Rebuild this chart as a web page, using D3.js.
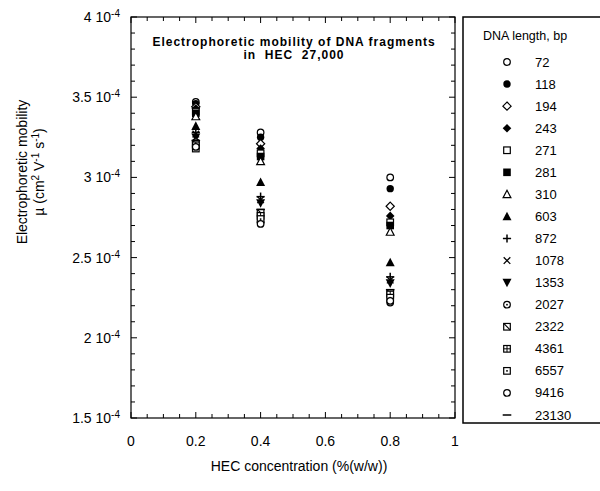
<!DOCTYPE html>
<html>
<head>
<meta charset="utf-8">
<script src="https://cdn.jsdelivr.net/npm/d3@7"></script>
<style>
  body { margin: 0; background: #fff; }
  text { font-family: "Liberation Sans", Arial, sans-serif; fill: #000; }
</style>
</head>
<body>
<div class="chart"></div>
<script>
var svgWidth = 600;
var svgHeight = 491;

// HEC concentration (%w/w)
var concentrations = [0.2, 0.4, 0.8];
// fragment sizes, bp (legend order)
var fragments = ["72", "118", "194", "243", "271", "281", "310", "603", "872",
  "1078", "1353", "2027", "2322", "4361", "6557", "9416", "23130"];
// mobility in units of 1e-4 cm2/(V s), one value per concentration
var mobility72 = [3.47, 3.28, 3.00];
var mobility118 = [3.46, 3.25, 2.93];
var mobility194 = [3.44, 3.21, 2.82];
var mobility243 = [3.43, 3.18, 2.76];
var mobility271 = [3.41, 3.15, 2.72];
var mobility281 = [3.40, 3.13, 2.70];
var mobility310 = [3.38, 3.10, 2.66];
var mobility603 = [3.32, 2.97, 2.47];
var mobility872 = [3.28, 2.88, 2.38];
var mobility1078 = [3.27, 2.86, 2.36];
var mobility1353 = [3.25, 2.84, 2.34];
var mobility2027 = [3.22, 2.72, 2.22];
var mobility2322 = [3.21, 2.78, 2.28];
var mobility4361 = [3.20, 2.76, 2.27];
var mobility6557 = [3.18, 2.74, 2.25];
var mobility9416 = [3.19, 2.71, 2.23];
var mobility23130 = [3.23, 2.80, 2.30];

var xTicks = [0, 0.2, 0.4, 0.6, 0.8, 1];
var yTicks = [1.5, 2, 2.5, 3, 3.5, 4];

var allMobility = [mobility72, mobility118, mobility194, mobility243, mobility271,
  mobility281, mobility310, mobility603, mobility872, mobility1078, mobility1353,
  mobility2027, mobility2322, mobility4361, mobility6557, mobility9416, mobility23130];

var symbols = ["circleOpen", "circleFilled", "diamondOpen", "diamondFilled", "squareOpen",
  "squareFilled", "triOpen", "triFilled", "plus", "cross", "triDown", "circleDot",
  "squareSlash", "squareGrid", "squareDot", "circleOpen", "dash"];

var margin = { top: 17, left: 131 };
var width = 324;
var height = 401;

var svg = d3.select(".chart")
  .append("svg")
  .attr("width", svgWidth)
  .attr("height", svgHeight);

var chartGroup = svg.append("g")
  .attr("transform", `translate(${margin.left}, ${margin.top})`);

var xScale = d3.scaleLinear().domain([0, 1]).range([0, width]);
var yScale = d3.scaleLinear().domain([1.5, 4]).range([height, 0]);

// frame
chartGroup.append("rect")
  .attr("width", width)
  .attr("height", height)
  .attr("fill", "none")
  .attr("stroke", "#000")
  .attr("stroke-width", 1.2);

// inward ticks on all four sides
var xMinor = d3.range(0, 1.0001, 0.05);
var yMinor = d3.range(1.5, 4.0001, 0.1);
function isMajor(v, step) { return Math.abs(v / step - Math.round(v / step)) < 1e-6; }

xMinor.forEach(function(v) {
  var len = isMajor(v, 0.2) ? 6 : 4;
  var x = xScale(v);
  chartGroup.append("line").attr("x1", x).attr("x2", x).attr("y1", height).attr("y2", height - len).attr("stroke", "#000");
  chartGroup.append("line").attr("x1", x).attr("x2", x).attr("y1", 0).attr("y2", len).attr("stroke", "#000");
});
yMinor.forEach(function(v) {
  var len = isMajor(v, 0.5) ? 6 : 4;
  var y = yScale(v);
  chartGroup.append("line").attr("x1", 0).attr("x2", len).attr("y1", y).attr("y2", y).attr("stroke", "#000");
  chartGroup.append("line").attr("x1", width).attr("x2", width - len).attr("y1", y).attr("y2", y).attr("stroke", "#000");
});

// tick labels
chartGroup.selectAll(".xlab")
  .data(xTicks)
  .enter()
  .append("text")
  .attr("x", d => xScale(d))
  .attr("y", height + 28)
  .attr("text-anchor", "middle")
  .style("font-size", "14px")
  .text(d => d);

var yLab = chartGroup.selectAll(".ylab")
  .data(yTicks)
  .enter()
  .append("text")
  .attr("x", -11)
  .attr("y", d => yScale(d) + 5)
  .attr("text-anchor", "end")
  .style("font-size", "14px");
yLab.append("tspan").text(d => d + " 10");
yLab.append("tspan").attr("dy", -5).style("font-size", "10px").text("-4");

// axis titles
chartGroup.append("text")
  .attr("x", width / 2 + 6)
  .attr("y", height + 53)
  .attr("text-anchor", "middle")
  .style("font-size", "14px")
  .text("HEC concentration (%(w/w))");

var yTitle = svg.append("g")
  .attr("transform", "translate(27, 172) rotate(-90)");
yTitle.append("text")
  .attr("text-anchor", "middle")
  .style("font-size", "14px")
  .text("Electrophoretic mobility");
var yTitle2 = yTitle.append("text")
  .attr("y", 17)
  .attr("text-anchor", "middle")
  .style("font-size", "14px");
yTitle2.append("tspan").text("\u00b5 (cm");
yTitle2.append("tspan").attr("dy", -5).style("font-size", "10px").text("2");
yTitle2.append("tspan").attr("dy", 5).text(" V");
yTitle2.append("tspan").attr("dy", -5).style("font-size", "10px").text("-1");
yTitle2.append("tspan").attr("dy", 5).text(" s");
yTitle2.append("tspan").attr("dy", -5).style("font-size", "10px").text("-1");
yTitle2.append("tspan").attr("dy", 5).text(")");

// chart title
chartGroup.append("text")
  .attr("x", 163)
  .attr("y", 29)
  .attr("text-anchor", "middle")
  .style("font-size", "12px")
  .style("font-weight", "bold")
  .style("letter-spacing", "1px")
  .text("Electrophoretic mobility of DNA fragments");
chartGroup.append("text")
  .attr("x", 163)
  .attr("y", 42)
  .attr("text-anchor", "middle")
  .style("font-size", "12px")
  .style("font-weight", "bold")
  .style("letter-spacing", "1px")
  .style("white-space", "pre")
  .text("in  HEC  27,000");

// marker drawing
function drawMarker(g, type) {
  var s = 3.3;
  var sw = 1.2;
  switch (type) {
    case "circleOpen":
      g.append("circle").attr("r", s).attr("fill", "#fff").attr("stroke", "#000").attr("stroke-width", sw); break;
    case "circleFilled":
      g.append("circle").attr("r", s + 0.4).attr("fill", "#000"); break;
    case "circleDot":
      g.append("circle").attr("r", s).attr("fill", "#fff").attr("stroke", "#000").attr("stroke-width", sw);
      g.append("circle").attr("r", 0.9).attr("fill", "#000"); break;
    case "diamondOpen":
      g.append("path").attr("d", `M0,${-s - 0.8}L${s + 0.8},0L0,${s + 0.8}L${-s - 0.8},0Z`).attr("fill", "#fff").attr("stroke", "#000").attr("stroke-width", sw); break;
    case "diamondFilled":
      g.append("path").attr("d", `M0,${-s - 1}L${s + 1},0L0,${s + 1}L${-s - 1},0Z`).attr("fill", "#000"); break;
    case "squareOpen":
      g.append("rect").attr("x", -s).attr("y", -s).attr("width", 2 * s).attr("height", 2 * s).attr("fill", "#fff").attr("stroke", "#000").attr("stroke-width", sw); break;
    case "squareFilled":
      g.append("rect").attr("x", -s - 0.5).attr("y", -s - 0.5).attr("width", 2 * s + 1).attr("height", 2 * s + 1).attr("fill", "#000"); break;
    case "squareSlash":
      g.append("rect").attr("x", -s).attr("y", -s).attr("width", 2 * s).attr("height", 2 * s).attr("fill", "#fff").attr("stroke", "#000").attr("stroke-width", sw);
      g.append("line").attr("x1", -s).attr("y1", -s).attr("x2", s).attr("y2", s).attr("stroke", "#000").attr("stroke-width", sw); break;
    case "squareGrid":
      g.append("rect").attr("x", -s).attr("y", -s).attr("width", 2 * s).attr("height", 2 * s).attr("fill", "#fff").attr("stroke", "#000").attr("stroke-width", sw);
      g.append("line").attr("x1", -s).attr("y1", 0).attr("x2", s).attr("y2", 0).attr("stroke", "#000").attr("stroke-width", 1);
      g.append("line").attr("x1", 0).attr("y1", -s).attr("x2", 0).attr("y2", s).attr("stroke", "#000").attr("stroke-width", 1); break;
    case "squareDot":
      g.append("rect").attr("x", -s).attr("y", -s).attr("width", 2 * s).attr("height", 2 * s).attr("fill", "#fff").attr("stroke", "#000").attr("stroke-width", sw);
      g.append("rect").attr("x", -0.8).attr("y", -0.8).attr("width", 1.6).attr("height", 1.6).attr("fill", "#000"); break;
    case "triOpen":
      g.append("path").attr("d", `M0,${-s - 0.8}L${s + 0.6},${s}L${-s - 0.6},${s}Z`).attr("fill", "#fff").attr("stroke", "#000").attr("stroke-width", sw); break;
    case "triFilled":
      g.append("path").attr("d", `M0,${-s - 1.4}L${s + 1.2},${s + 0.6}L${-s - 1.2},${s + 0.6}Z`).attr("fill", "#000"); break;
    case "triDown":
      g.append("path").attr("d", `M0,${s + 1.4}L${s + 1.2},${-s - 0.6}L${-s - 1.2},${-s - 0.6}Z`).attr("fill", "#000"); break;
    case "plus":
      g.append("line").attr("x1", -s - 0.8).attr("x2", s + 0.8).attr("y1", 0).attr("y2", 0).attr("stroke", "#000").attr("stroke-width", 1.5);
      g.append("line").attr("y1", -s - 0.8).attr("y2", s + 0.8).attr("x1", 0).attr("x2", 0).attr("stroke", "#000").attr("stroke-width", 1.5); break;
    case "cross":
      g.append("line").attr("x1", -s).attr("x2", s).attr("y1", -s).attr("y2", s).attr("stroke", "#000").attr("stroke-width", 1.3);
      g.append("line").attr("x1", -s).attr("x2", s).attr("y1", s).attr("y2", -s).attr("stroke", "#000").attr("stroke-width", 1.3); break;
    case "dash":
      g.append("line").attr("x1", -s - 1).attr("x2", s + 1).attr("y1", 0).attr("y2", 0).attr("stroke", "#000").attr("stroke-width", 1.5); break;
  }
}

// data points
allMobility.forEach(function(series, i) {
  series.forEach(function(v, j) {
    var g = chartGroup.append("g")
      .attr("transform", `translate(${xScale(concentrations[j])}, ${yScale(v)})`);
    drawMarker(g, symbols[i]);
  });
});

// legend
var legend = svg.append("g").attr("transform", "translate(463, 17)");
legend.append("rect")
  .attr("width", 150)
  .attr("height", 406)
  .attr("fill", "none")
  .attr("stroke", "#000")
  .attr("stroke-width", 1.5);
legend.append("text")
  .attr("x", 20)
  .attr("y", 23)
  .style("font-size", "12.5px")
  .text("DNA length, bp");

var legendY = d3.scaleLinear().domain([0, fragments.length - 1]).range([45, 398]);
fragments.forEach(function(f, i) {
  var g = legend.append("g").attr("transform", `translate(44, ${legendY(i)})`);
  drawMarker(g, symbols[i]);
  legend.append("text")
    .attr("x", 72)
    .attr("y", legendY(i) + 4.5)
    .style("font-size", "13px")
    .text(f);
});
</script>
</body>
</html>
